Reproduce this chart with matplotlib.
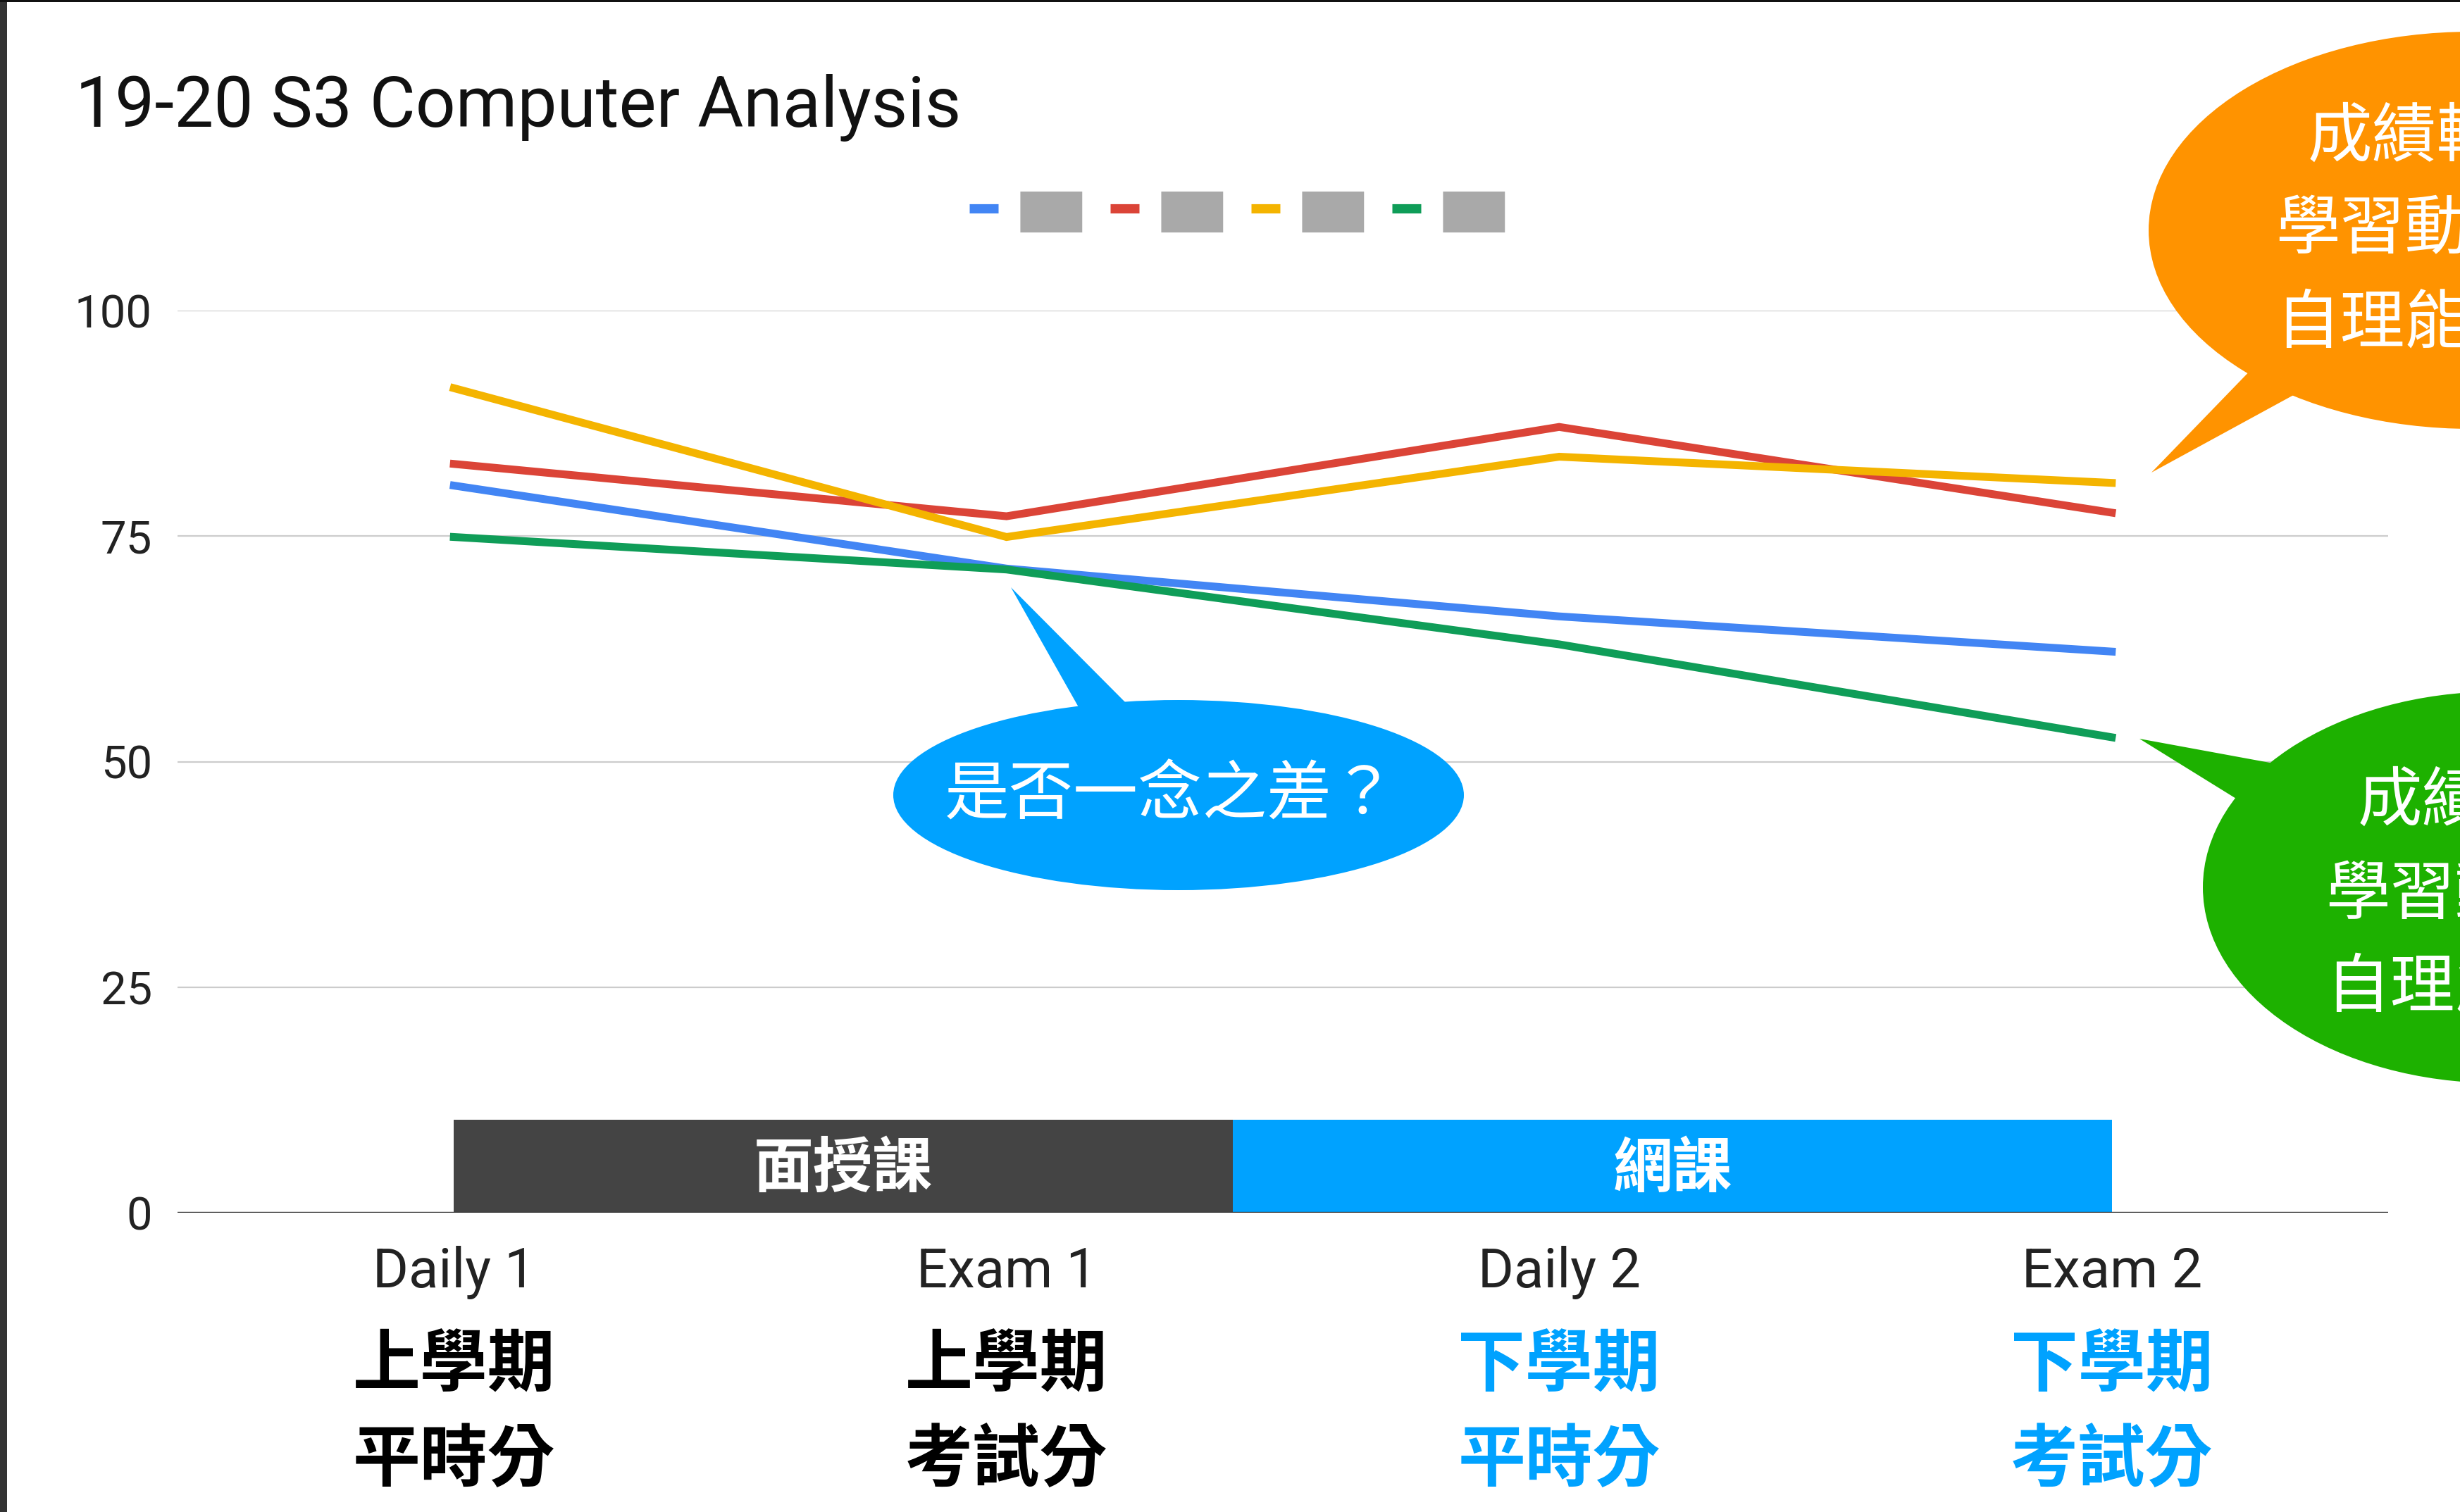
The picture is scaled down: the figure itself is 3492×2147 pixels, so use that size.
import matplotlib
matplotlib.use('Agg')
import matplotlib.pyplot as plt
from matplotlib.patches import Ellipse, Polygon, Rectangle
from matplotlib.transforms import blended_transform_factory

plt.rcParams['font.family'] = ['Roboto', 'Noto Sans CJK TC', 'DejaVu Sans']

# chart data
categories = ['Daily 1', 'Exam 1', 'Daily 2', 'Exam 2']
term_labels = ['上學期', '上學期', '下學期', '下學期']
score_labels = ['平時分', '考試分', '平時分', '考試分']
label_colors = ['#000000', '#000000', '#00A2FF', '#00A2FF']

blue_scores = [80.6, 71.4, 66.1, 62.2]
red_scores = [83.0, 77.2, 87.1, 77.6]
yellow_scores = [91.4, 74.9, 83.8, 80.9]
green_scores = [74.9, 71.3, 63.0, 52.7]
series = [blue_scores, red_scores, yellow_scores, green_scores]
series_colors = ['#4285F4', '#DB4437', '#F4B400', '#0F9D58']
series_labels = ['██', '██', '██', '██']  # names are pixelated in the original

yticks = [0, 25, 50, 75, 100]

mode_labels = ['面授課', '網課']
mode_edges = [0, 1.41, 3]
mode_colors = ['#444444', '#00A2FF']
mode_height = 10.3

W, H = 3492, 2147
fig = plt.figure(figsize=(W / 100, H / 100), dpi=100)
fig.patch.set_facecolor('white')

ax = fig.add_axes([252 / W, 425 / H, 3138 / W, 1281 / H])
x = list(range(len(categories)))
for vals, col, lab in zip(series, series_colors, series_labels):
    ax.plot(x, vals, color=col, lw=8, label=lab, solid_joinstyle='miter', zorder=3)

ax.set_xlim(-0.5, 3.5)
ax.set_ylim(0, 100)
ax.set_yticks(yticks)
ax.set_yticklabels([str(v) for v in yticks], fontsize=47, color='#222222')
ax.set_xticks(x)
ax.set_xticklabels(categories, fontsize=56, color='#222222')
ax.tick_params(axis='y', length=0, pad=26)
ax.tick_params(axis='x', length=0, pad=34)
ax.grid(axis='y', color='#cccccc', lw=1.6)
ax.set_axisbelow(True)
for s in ax.spines.values():
    s.set_visible(False)
ax.axhline(0, color='#333333', lw=2.4, zorder=4)

# teaching-mode bands
for i, lab in enumerate(mode_labels):
    x0, x1 = mode_edges[i], mode_edges[i + 1]
    ax.add_patch(Rectangle((x0, 0), x1 - x0, mode_height, color=mode_colors[i],
                           lw=0, zorder=2))
    ax.text((x0 + x1) / 2, mode_height / 2 - 0.3, lab, fontsize=61, color='white',
            ha='center', va='center', family=['Noto Sans CJK TC'],
            fontweight='bold', zorder=5)

# Chinese labels under the categories
tr = blended_transform_factory(ax.transData, fig.transFigure)
for i in x:
    ax.text(i, (H - 1940) / H, term_labels[i], transform=tr, fontsize=69,
            fontweight='bold', color=label_colors[i], ha='center', va='center',
            family=['Noto Sans CJK TC'])
    ax.text(i, (H - 2074) / H, score_labels[i], transform=tr, fontsize=69,
            fontweight='bold', color=label_colors[i], ha='center', va='center',
            family=['Noto Sans CJK TC'])

fig.text(107 / W, (H - 180) / H, '19-20 S3 Computer Analysis', fontsize=72,
         color='#111111', ha='left', va='baseline')

leg = fig.legend(loc='center', bbox_to_anchor=(1756 / W, (H - 301) / H), ncol=4,
                 frameon=False, handlelength=0.72, handletextpad=0.55,
                 columnspacing=0.7, labelcolor='#a9a9a9',
                 prop={'family': 'DejaVu Sans', 'size': 41})
for h in leg.legend_handles:
    h.set_linewidth(9.5)
    h.set_solid_capstyle('butt')

# overlay for callouts, in pixel coordinates
ov = fig.add_axes([0, 0, 1, 1], zorder=10)
ov.set_xlim(0, W)
ov.set_ylim(H, 0)
ov.axis('off')
ov.patch.set_alpha(0)

# blue callout
ov.add_patch(Polygon([(1435, 834), (1540, 1020), (1615, 1015)], color='#00A2FF', lw=0))
ov.add_patch(Ellipse((1673, 1129), 810, 270, color='#00A2FF', lw=0))
ov.text(1662, 1131, '是否一念之差？', fontsize=66, color='white', ha='center',
        va='center', family=['Noto Sans CJK TC'])

# orange callout
ov.add_patch(Polygon([(3054, 671), (3205, 515), (3285, 545)], color='#FF9300', lw=0))
ov.add_patch(Ellipse((3509, 327), 918, 564, color='#FF9300', lw=0))
for txt, yy in zip(['成績較好', '學習動機強', '自理能力高'], [196, 327, 461]):
    ov.text(3459, yy, txt, fontsize=66, color='white', ha='center', va='center',
            family=['Noto Sans CJK TC'], clip_on=False)

# green callout
ov.add_patch(Polygon([(3037, 1049), (3260, 1090), (3200, 1150)], color='#1DB100', lw=0))
ov.add_patch(Ellipse((3545, 1260), 836, 556, color='#1DB100', lw=0))
for txt, yy in zip(['成績較差', '學習動機弱', '自理能力低'], [1139, 1271, 1404]):
    ov.text(3530, yy, txt, fontsize=66, color='white', ha='center', va='center',
            family=['Noto Sans CJK TC'], clip_on=False)

# screenshot borders
ov.add_patch(Rectangle((0, 0), 10, H, color='#333333', lw=0))
ov.add_patch(Rectangle((0, 0), W, 3, color='#111111', lw=0))

fig.savefig('out.png', dpi=100, facecolor='white')
